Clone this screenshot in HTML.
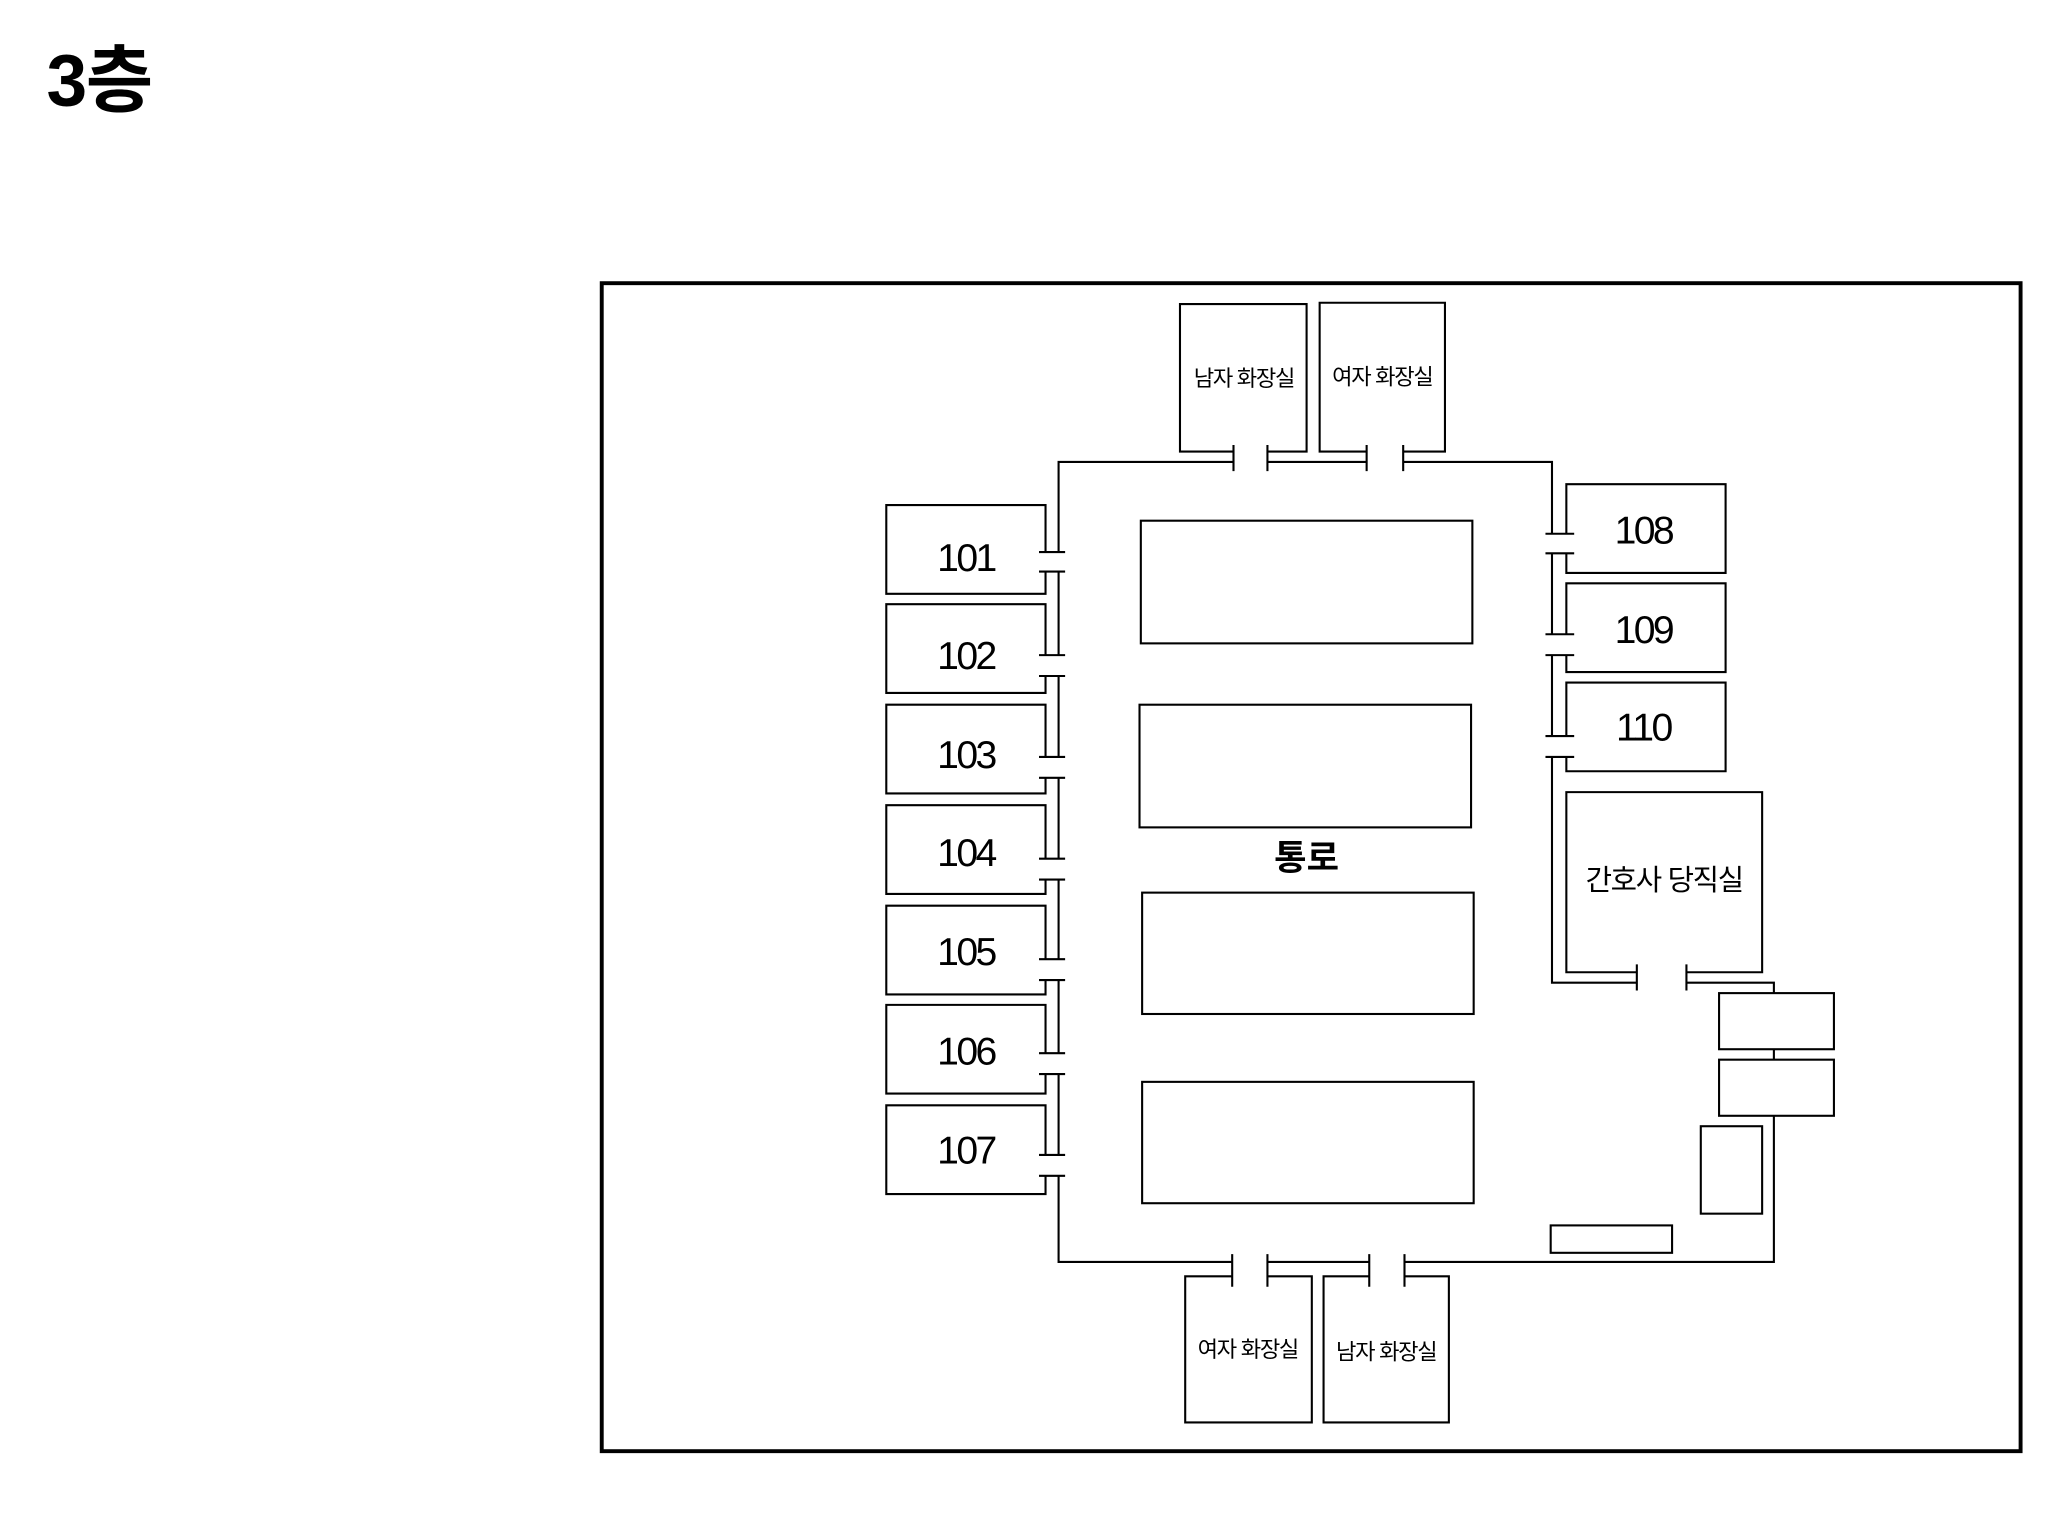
<!DOCTYPE html>
<html><head><meta charset="utf-8"><style>
html,body{margin:0;padding:0;background:#fff;}
svg{display:block}
text{font-family:"Liberation Sans","Noto Sans CJK KR",sans-serif;fill:#000;text-anchor:middle;dominant-baseline:central}
</style></head><body>
<svg width="2048" height="1536" viewBox="-1 -1 1569 1177" preserveAspectRatio="none" xmlns="http://www.w3.org/2000/svg">
<rect x="-1" y="-1" width="1569" height="1177" fill="#fff"/>
<text x="75" y="61" font-size="56" font-weight="bold" style="letter-spacing:-1px">3층</text>
<rect x="460" y="216" width="1087" height="895" fill="none" stroke="#000" stroke-width="3"/>
<g fill="none" stroke="#000" stroke-width="1.6">
<path d="M944 345 H903 V232 H1000 V345 H970"/>
<path d="M1046 345 H1010 V231 H1106 V345 H1074"/>
<path d="M944 353 H810 V422 M970 353 H1046 M1074 353 H1188 V408"/>
<path d="M944 340 V360 M970 340 V360 M1046 340 V360 M1074 340 V360"/>
<path d="M800 422 V386 H678 V454 H800 V437"/>
<path d="M800 501 V462 H678 V530 H800 V517"/>
<path d="M800 579 V539 H678 V607 H800 V595"/>
<path d="M800 657 V616 H678 V684 H800 V673"/>
<path d="M800 734 V693 H678 V761 H800 V750"/>
<path d="M800 806 V769 H678 V837 H800 V822"/>
<path d="M800 884 V846 H678 V914 H800 V900"/>
<path d="M810 437 V501 M810 517 V579 M810 595 V657 M810 673 V734 M810 750 V806 M810 822 V884 M810 900 V966 H943 M970 966 H1048 M1075 966 H1358 V752 H1291 M1253 752 H1188 V579"/>
<path d="M795 422 H815 M795 437 H815 M795 501 H815 M795 517 H815 M795 579 H815 M795 595 H815 M795 657 H815 M795 673 H815 M795 734 H815 M795 750 H815 M795 806 H815 M795 822 H815 M795 884 H815 M795 900 H815"/>
<path d="M1199 408 V370 H1321 V438 H1199 V423"/>
<path d="M1199 485 V446 H1321 V514 H1199 V501"/>
<path d="M1199 563 V522 H1321 V590 H1199 V579"/>
<path d="M1188 423 V485 M1188 501 V563"/>
<path d="M1183 408 H1205 M1183 423 H1205 M1183 485 H1205 M1183 501 H1205 M1183 563 H1205 M1183 579 H1205"/>
<path d="M1253 744 H1199 V606 H1349 V744 H1291"/>
<path d="M1253 738 V758 M1291 738 V758"/>
<path d="M943 977 H907 V1089 H1004 V977 H970"/>
<path d="M1048 977 H1013 V1089 H1109 V977 H1075"/>
<path d="M943 960 V985 M970 960 V985 M1048 960 V985 M1075 960 V985"/>
</g>
<g fill="#fff" stroke="#000" stroke-width="1.6">
<rect x="873" y="398" width="254" height="94"/>
<rect x="872" y="539" width="254" height="94"/>
<rect x="874" y="683" width="254" height="93"/>
<rect x="874" y="828" width="254" height="93"/>
<rect x="1316" y="760" width="88" height="43"/>
<rect x="1316" y="811" width="88" height="43"/>
<rect x="1302" y="862" width="47" height="67"/>
<rect x="1187" y="938" width="93" height="21"/>
</g>
<g font-size="30" style="letter-spacing:-2px">
<text x="739" y="427">101</text>
<text x="739" y="502">102</text>
<text x="739" y="578">103</text>
<text x="739" y="653">104</text>
<text x="739" y="729">105</text>
<text x="739" y="805">106</text>
<text x="739" y="881">107</text>
<text x="1258" y="406">108</text>
<text x="1258" y="482">109</text>
<text x="1258" y="557">110</text>
</g>
<g font-size="17" style="letter-spacing:-1px">
<text x="952" y="289">남자 화장실</text>
<text x="1058" y="288">여자 화장실</text>
<text x="955" y="1033">여자 화장실</text>
<text x="1061" y="1035">남자 화장실</text>
</g>
<text x="1274" y="674" font-size="22" style="letter-spacing:-1px">간호사 당직실</text>
<text x="1000" y="657" font-size="27" font-weight="bold">통로</text>
</svg>
</body></html>
